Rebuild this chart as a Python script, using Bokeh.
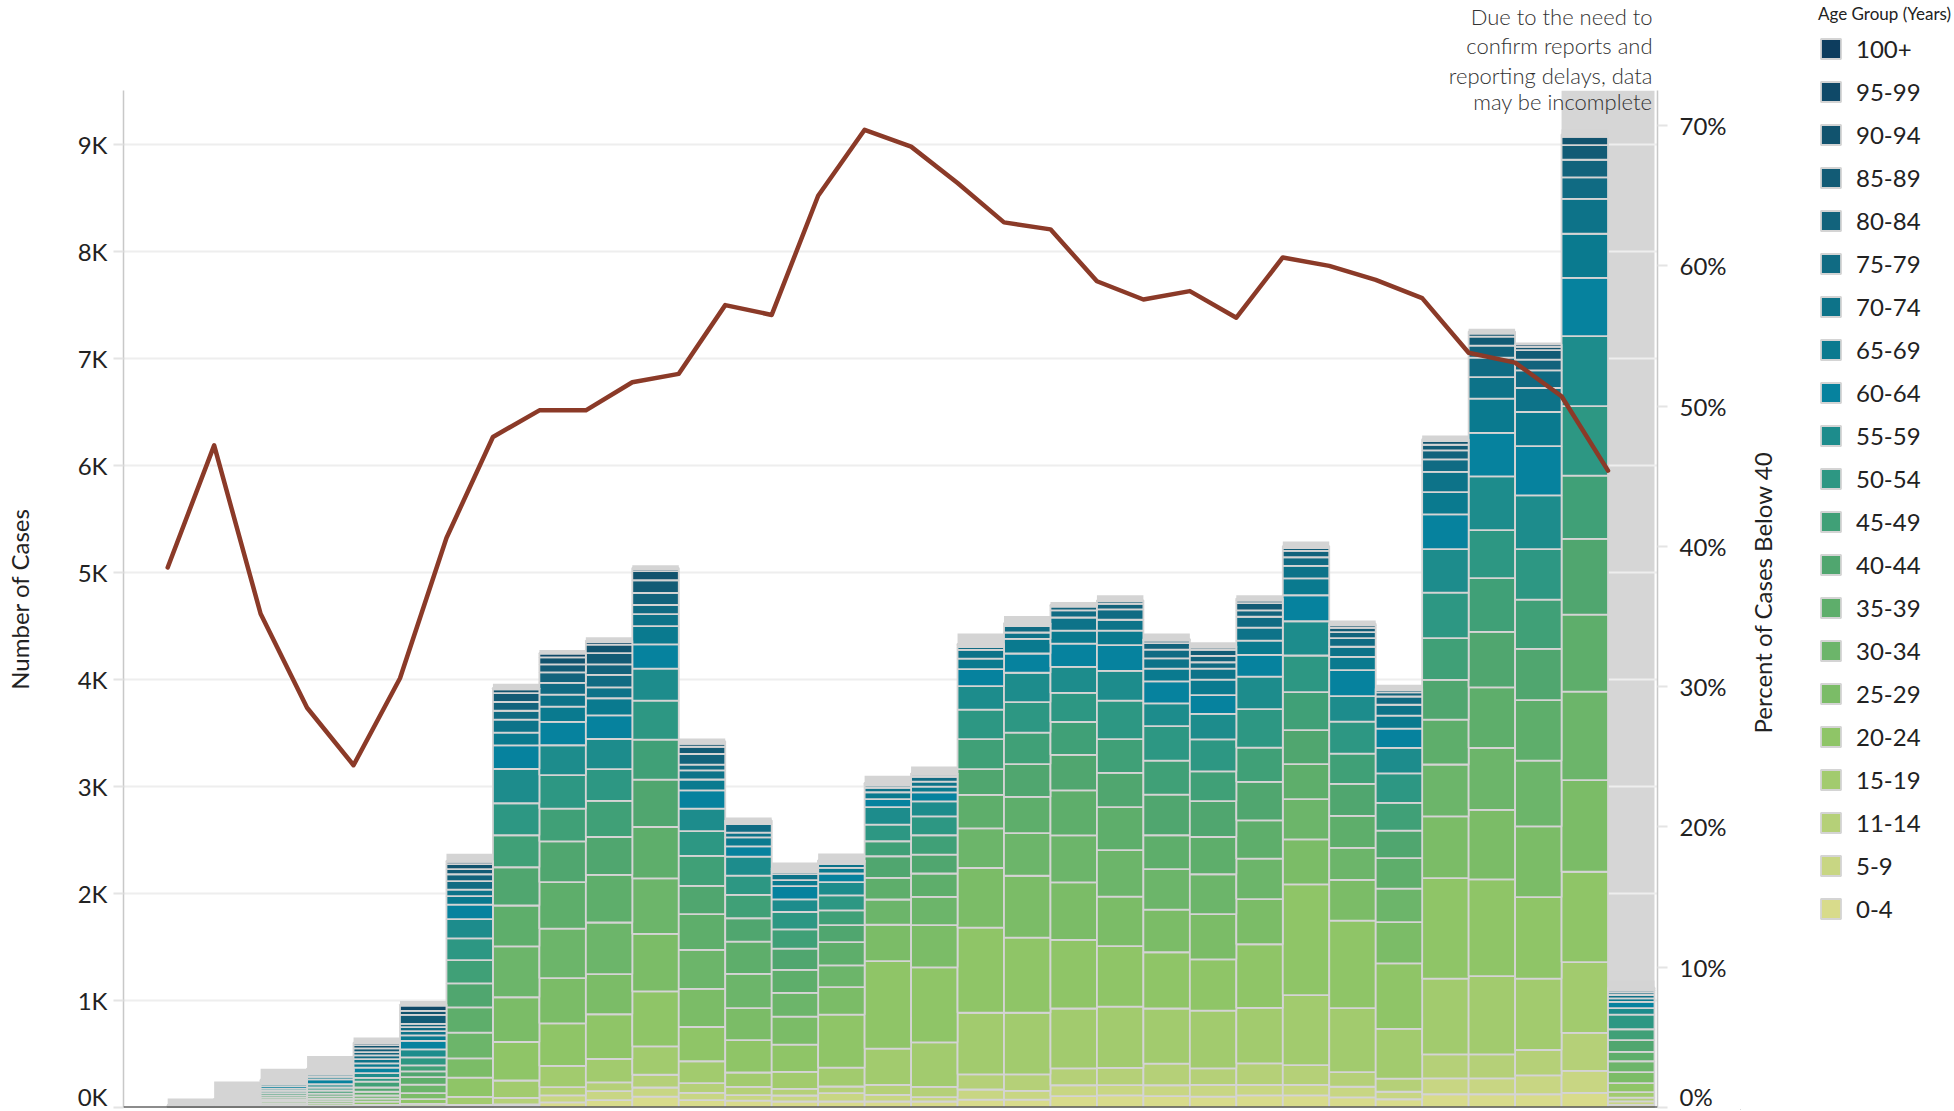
import math
from bokeh.plotting import figure
from bokeh.layouts import row
from bokeh.models import (ColumnDataSource, Range1d, LinearAxis, FixedTicker,
                          Legend, LegendItem, Label, Span, Title)
from bokeh.embed import file_html
from bokeh.resources import INLINE

# ---------------- data ----------------
age_groups = ["0-4", "5-9", "11-14", "15-19", "20-24", "25-29", "30-34", "35-39",
              "40-44", "45-49", "50-54", "55-59", "60-64", "65-69", "70-74",
              "75-79", "80-84", "85-89", "90-94", "95-99", "100+"]
age_colors = ["#d8db8b", "#c8d683", "#b5d078", "#a2cb6e", "#8fc567", "#7bbc67",
              "#6cb56a", "#5eae6b", "#50a66f", "#40a077", "#2d9783", "#1d8c8c",
              "#06829e", "#0a7a8f", "#0d7389", "#106b83", "#12637c", "#125b75",
              "#11536e", "#0f4968", "#0d3d5e"]

# cases per week, by age group (same order as age_groups, bottom -> top)
week_00 = [0, 0, 0, 1, 2, 2, 1, 2, 2, 2, 2, 2, 2, 1, 1, 1, 0, 0, 0, 0, 0]
week_01 = [0, 1, 2, 4, 8, 7, 7, 9, 8, 8, 7, 6, 5, 4, 2, 1, 1, 0, 0, 0, 0]
week_02 = [2, 2, 4, 8, 18, 20, 18, 20, 22, 20, 22, 20, 24, 18, 12, 10, 8, 6, 4, 2, 0]
week_03 = [2, 2, 4, 10, 20, 22, 20, 24, 25, 30, 28, 30, 45, 25, 20, 15, 14, 12, 10, 5, 2]
week_04 = [3, 3, 6, 12, 30, 28, 30, 35, 40, 55, 35, 45, 50, 40, 40, 35, 30, 35, 30, 20, 3]
week_05 = [3, 3, 6, 22, 44, 56, 80, 70, 53, 56, 75, 75, 80, 50, 40, 37, 31, 85, 37, 50, 9]
week_06 = [6, 6, 12, 75, 180, 180, 240, 236, 224, 218, 202, 180, 137, 78, 62, 78, 65, 47, 47, 22, 9]
week_07 = [14, 14, 61, 163, 360, 418, 476, 381, 357, 299, 299, 320, 221, 119, 122, 82, 82, 82, 37, 10, 3]
week_08 = [48, 65, 78, 197, 398, 422, 462, 435, 381, 306, 313, 279, 218, 143, 112, 109, 99, 75, 65, 34, 7]
week_09 = [68, 85, 82, 218, 418, 374, 483, 445, 354, 337, 296, 282, 221, 160, 102, 116, 99, 105, 78, 24, 14]
week_10 = [102, 85, 119, 265, 513, 537, 520, 479, 442, 374, 364, 299, 228, 170, 112, 85, 112, 119, 85, 20, 10]
week_11 = [68, 68, 92, 204, 320, 357, 364, 333, 265, 279, 231, 211, 170, 102, 85, 54, 99, 68, 27, 17, 7]
week_12 = [65, 50, 78, 134, 302, 299, 320, 302, 218, 218, 180, 177, 96, 84, 44, 81, 16, 9, 6, 3, 0]
week_13 = [56, 56, 62, 159, 255, 261, 221, 215, 199, 180, 162, 118, 124, 56, 56, 19, 16, 12, 9, 3, 0]
week_14 = [56, 78, 62, 177, 494, 258, 202, 218, 159, 137, 140, 124, 81, 53, 34, 16, 9, 6, 3, 3, 0]
week_15 = [56, 62, 93, 339, 818, 339, 236, 202, 202, 140, 156, 162, 75, 65, 40, 22, 12, 6, 3, 3, 0]
week_16 = [56, 40, 96, 417, 700, 395, 264, 218, 177, 180, 177, 140, 84, 53, 47, 44, 19, 9, 3, 3, 0]
week_17 = [73, 95, 142, 575, 796, 556, 370, 313, 240, 281, 275, 221, 158, 98, 82, 25, 13, 9, 6, 3, 0]
week_18 = [73, 82, 155, 575, 702, 578, 398, 338, 307, 294, 284, 275, 180, 136, 60, 60, 16, 6, 3, 3, 0]
week_19 = [107, 101, 158, 559, 641, 537, 439, 420, 332, 307, 272, 243, 218, 120, 123, 66, 35, 9, 6, 3, 0]
week_20 = [114, 95, 161, 572, 566, 461, 436, 401, 319, 316, 360, 278, 240, 136, 101, 98, 51, 22, 6, 3, 0]
week_21 = [107, 101, 202, 515, 525, 398, 379, 316, 379, 319, 322, 212, 205, 120, 95, 82, 60, 25, 9, 6, 0]
week_22 = [102, 109, 155, 539, 479, 422, 373, 348, 334, 278, 299, 239, 176, 144, 102, 60, 60, 56, 21, 11, 7]
week_23 = [113, 99, 201, 517, 595, 422, 377, 359, 359, 320, 359, 303, 204, 134, 120, 102, 60, 67, 25, 14, 4]
week_24 = [113, 99, 183, 655, 1035, 419, 377, 327, 317, 356, 341, 320, 243, 158, 116, 81, 60, 25, 11, 7, 0]
week_25 = [95, 99, 137, 598, 817, 380, 299, 299, 299, 282, 299, 239, 243, 123, 95, 81, 56, 39, 25, 14, 0]
week_26 = [77, 70, 123, 465, 612, 384, 313, 285, 257, 260, 275, 239, 180, 120, 102, 77, 39, 21, 11, 4, 0]
week_27 = [124, 148, 224, 708, 938, 578, 484, 419, 372, 389, 425, 407, 325, 207, 189, 118, 83, 53, 35, 18, 0]
week_28 = [124, 148, 224, 732, 903, 649, 578, 566, 519, 502, 448, 502, 407, 319, 201, 183, 112, 83, 30, 18, 0]
week_29 = [124, 177, 236, 667, 761, 661, 614, 566, 478, 460, 472, 502, 460, 319, 224, 165, 100, 89, 30, 24, 0]
week_30 = [136, 207, 354, 661, 844, 856, 826, 720, 708, 590, 649, 655, 543, 413, 325, 201, 165, 136, 77, 18, 6]
week_31 = [24, 34, 34, 51, 85, 102, 102, 88, 109, 102, 136, 61, 58, 34, 31, 24, 20, 14, 7, 3, 0]

# total reported cases per week (grey bar behind the stack)
total_cases = [84, 243, 361, 482, 653, 995, 2370, 3958, 4274, 4393, 5066, 3448, 2709,
               2289, 2373, 3098, 3185, 4427, 4591, 4721, 4784, 4427, 4347, 4784, 5287,
               4548, 3949, 6278, 7275, 7145, 9139, 1186]

# percent of cases below age 40 (line, right axis)
pct_below_40 = [38.5, 47.2, 35.2, 28.5, 24.4, 30.6, 40.6, 47.8, 49.7, 49.7, 51.7, 52.3,
                57.2, 56.5, 65.0, 69.7, 68.5, 65.9, 63.1, 62.6, 58.9, 57.6, 58.2, 56.3,
                60.6, 60.0, 59.0, 57.7, 53.8, 53.1, 50.7, 45.4]

incomplete_weeks = [30, 31]

left_ticks = [0, 1000, 2000, 3000, 4000, 5000, 6000, 7000, 8000, 9000]
left_tick_labels = ["0K", "1K", "2K", "3K", "4K", "5K", "6K", "7K", "8K", "9K"]
pct_ticks = [0, 10, 20, 30, 40, 50, 60, 70]
pct_tick_labels = ["0%", "10%", "20%", "30%", "40%", "50%", "60%", "70%"]

note_lines = ["Due to the need to", "confirm reports and",
              "reporting delays, data", "may be incomplete"]

# ---------------- build ----------------
weekly = [week_00, week_01, week_02, week_03, week_04, week_05, week_06, week_07,
          week_08, week_09, week_10, week_11, week_12, week_13, week_14, week_15,
          week_16, week_17, week_18, week_19, week_20, week_21, week_22, week_23,
          week_24, week_25, week_26, week_27, week_28, week_29, week_30, week_31]
n = len(weekly)
week_idx = list(range(n))
data = {"x": [i + 0.5 for i in week_idx], "total": total_cases}
for j, g in enumerate(age_groups):
    data[g] = [row_[j] for row_ in weekly]
src = ColumnDataSource(data)

FONT = "Lato"
NOTE_FONT = "Lato Light"
TXT = "#222222"
Y_MAX = 9500
SEG_LINE = "#d4d4d4"
H = 1110

p = figure(width=1740, height=H, title=None,
           x_range=Range1d(-0.951, 32.065), y_range=Range1d(0, Y_MAX),
           output_backend="svg", toolbar_location=None, x_axis_location=None,
           min_border_left=123, min_border_right=83, min_border_top=90,
           min_border_bottom=3, outline_line_color=None,
           background_fill_color="white", border_fill_color="white")
p.extra_y_ranges = {"pct": Range1d(0, 72.5)}

# incomplete-data band
p.quad(left=[min(incomplete_weeks)], right=[max(incomplete_weeks) + 1],
       bottom=[0], top=[Y_MAX], fill_color="#d6d6d6", line_color=None, level="image")

p.xgrid.visible = False
p.ygrid.ticker = FixedTicker(ticks=left_ticks)
p.ygrid.grid_line_color = "#eeeeee"
p.ygrid.grid_line_width = 2

# grey total bars
p.vbar(x="x", top="total", width=1, source=src, fill_color=SEG_LINE, line_color=None)

# stacked age groups
stack = p.vbar_stack(age_groups, x="x", width=1, source=src, fill_color=age_colors,
                     line_color=SEG_LINE, line_width=1.8)

# line
p.line(x=week_idx, y=pct_below_40, y_range_name="pct", line_color="#8b3a28",
       line_width=4.5, line_join="round", line_cap="round")

# axes
lax = p.yaxis[0]
lax.ticker = FixedTicker(ticks=left_ticks)
lax.major_label_overrides = dict(zip(left_ticks, left_tick_labels))
rax = LinearAxis(y_range_name="pct", ticker=FixedTicker(ticks=pct_ticks),
                 major_label_overrides=dict(zip(pct_ticks, pct_tick_labels)))
p.add_layout(rax, "right")
for ax in (lax, rax):
    ax.axis_line_color = "#c8c8c8"
    ax.axis_line_width = 1.5
    ax.major_tick_line_color = "#e4e4e4"
    ax.major_tick_line_width = 2
    ax.major_tick_out = 10
    ax.major_tick_in = 0
    ax.minor_tick_line_color = None
    ax.major_label_text_font = FONT
    ax.major_label_text_font_size = "24px"
    ax.major_label_text_color = TXT
    ax.axis_label_text_font = FONT
    ax.axis_label_text_font_size = "24px"
    ax.axis_label_text_font_style = "normal"
    ax.axis_label_text_color = TXT
lax.major_label_standoff = 6
rax.major_label_standoff = 12
lax.axis_label = "Number of Cases"
lax.axis_label_standoff = 41

p.add_layout(Span(location=0, dimension="width", line_color="#1a1a1a", line_width=2))

# note: first three lines stacked above the plot, last line inside the band
for k, line in enumerate(reversed(note_lines[:3])):
    p.add_layout(Title(text=line, align="right", offset=5,
                       standoff=3 if k == 0 else 0,
                       text_font=NOTE_FONT, text_font_size="22px",
                       text_font_style="normal", text_color="#333333"), "above")
p.add_layout(Label(x=32, y=1006, x_units="data", y_units="screen", x_offset=-2,
                   text=note_lines[3], text_align="right", text_baseline="middle",
                   text_font=NOTE_FONT, text_font_size="22px", text_color="#333333"))

# right-hand panel: right-axis title + legend
LG_W = 1954 - 1740
lg = figure(width=LG_W, height=H, title=None, x_range=Range1d(0, 1),
            y_range=Range1d(0, 1), output_backend="svg", toolbar_location=None,
            x_axis_location=None, y_axis_location=None, min_border=0,
            outline_line_color=None, background_fill_color="white",
            border_fill_color="white")
lg.xgrid.visible = False
lg.ygrid.visible = False
for fig in (p, lg):
    if "frame_align" in fig.properties():
        fig.frame_align = False

lg.add_layout(Label(x=22, y=H - 592, x_units="screen", y_units="screen",
                    text="Percent of Cases Below 40", angle=math.pi / 2,
                    text_align="center", text_baseline="middle", text_font=FONT,
                    text_font_size="24px", text_color=TXT))

# legend keys: one zero-height, off-screen bar per age group (only the swatch shows)
swatches = [lg.vbar(x=[-5], top=[0], width=0.5, fill_color=c, line_color=SEG_LINE,
                    line_width=1.8) for c in age_colors]
items = [LegendItem(label=g, renderers=[r])
         for g, r in zip(age_groups[::-1], swatches[::-1])]
legend = Legend(items=items, location=(78, 187), title="Age Group (Years)",
                title_text_font=FONT, title_text_font_size="17px",
                title_text_font_style="normal", title_text_color=TXT,
                label_text_font=FONT, label_text_font_size="24px",
                label_text_color=TXT, glyph_width=25, glyph_height=25,
                label_height=28, label_standoff=13, spacing=14, padding=0,
                margin=0, title_standoff=10, border_line_color=None,
                background_fill_alpha=0)
lg.add_layout(legend)

open("out.html", "w").write(file_html(row(p, lg), INLINE))
